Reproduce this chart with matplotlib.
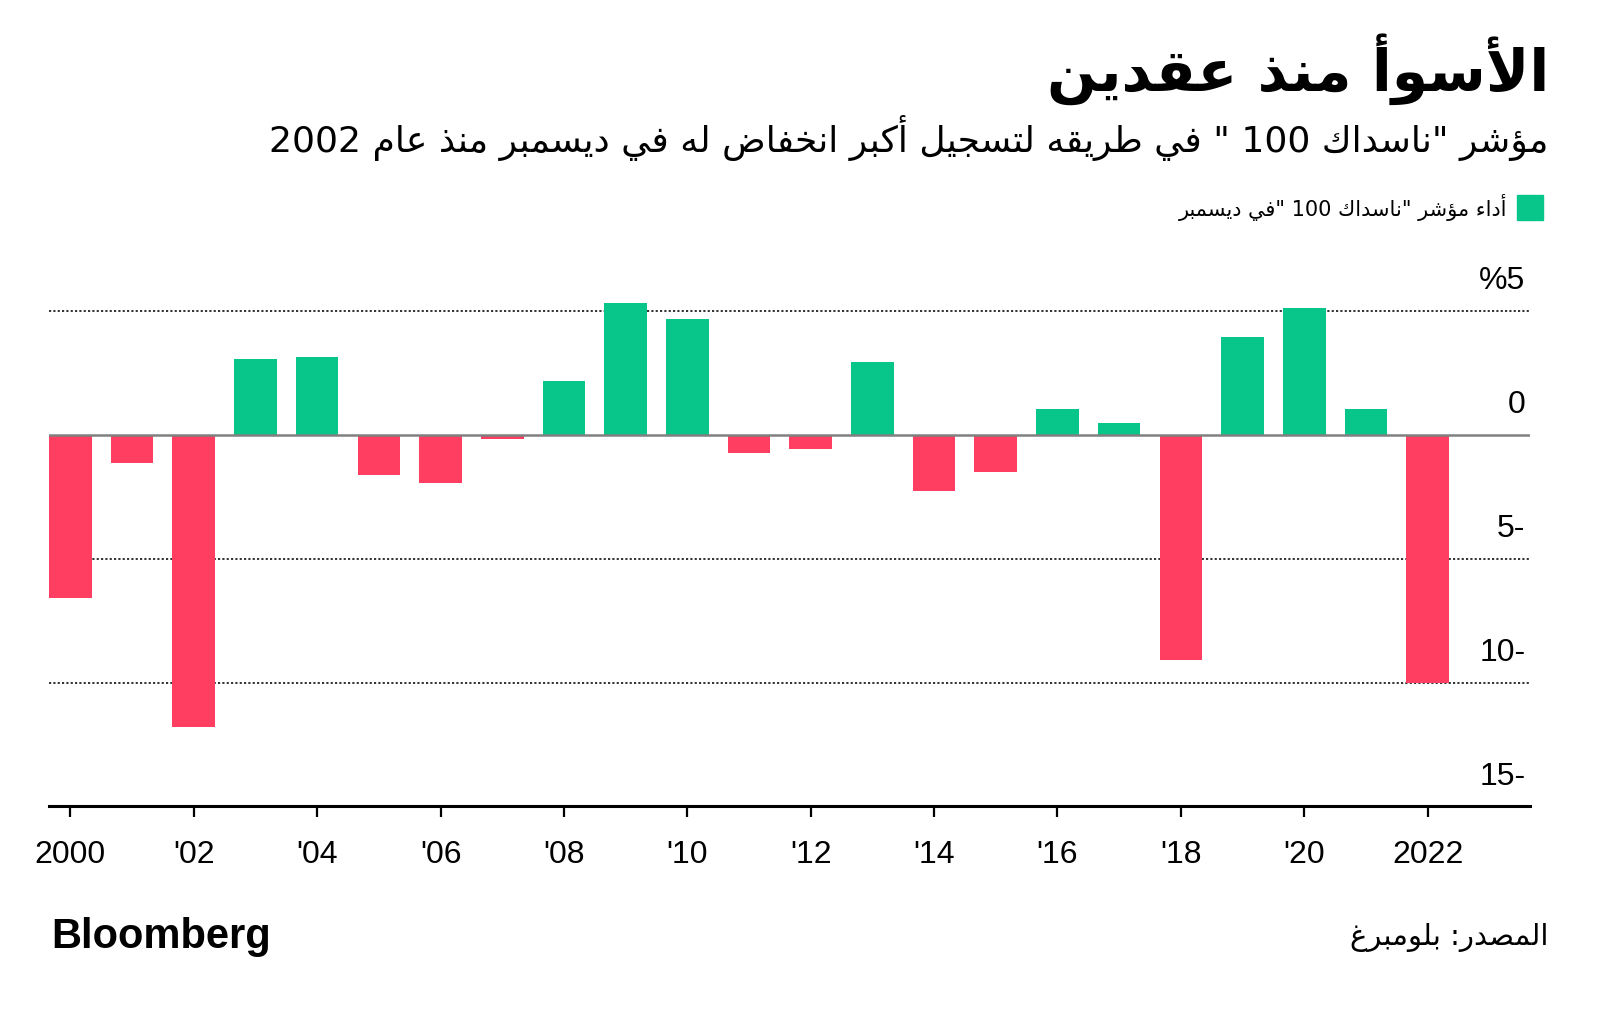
import re
import numpy as np
import matplotlib
matplotlib.use('Agg')
import matplotlib.pyplot as plt
from matplotlib.patches import Rectangle

# data (December change of Nasdaq 100, %)
years = np.arange(2000, 2023)
values = [-6.57, -1.15, -11.78, 3.08, 3.16, -1.63, -1.94, -0.17, 2.19, 5.33, 4.68,
          -0.75, -0.57, 2.96, -2.28, -1.50, 1.05, 0.50, -9.07, 3.94, 5.12, 1.05, -10.0]
xtick_years = list(range(2000, 2023, 2))
xtick_labels = ['2000', "'02", "'04", "'06", "'08", "'10", "'12", "'14", "'16", "'18", "'20", '2022']
ytick_values = [5, 0, -5, -10, -15]
ytick_labels = ['%5', '0', '5-', '10-', '15-']
grid_values = [5, -5, -10]

title = 'الأسوأ منذ عقدين'
subtitle = 'مؤشر "ناسداك 100 " في طريقه لتسجيل أكبر انخفاض له في ديسمبر منذ عام 2002'
legend_label = 'أداء مؤشر "ناسداك 100 "في ديسمبر'
source = 'المصدر: بلومبرغ'

GREEN = '#08c68a'
RED = '#ff3e61'

# --- minimal Arabic shaping (matplotlib has no complex text layout) ---
FORMS = {
    '\u0621': (0xFE80, 1), '\u0622': (0xFE81, 2), '\u0623': (0xFE83, 2),
    '\u0624': (0xFE85, 2), '\u0625': (0xFE87, 2), '\u0626': (0xFE89, 4),
    '\u0627': (0xFE8D, 2), '\u0628': (0xFE8F, 4), '\u0629': (0xFE93, 2),
    '\u062A': (0xFE95, 4), '\u062B': (0xFE99, 4), '\u062C': (0xFE9D, 4),
    '\u062D': (0xFEA1, 4), '\u062E': (0xFEA5, 4), '\u062F': (0xFEA9, 2),
    '\u0630': (0xFEAB, 2), '\u0631': (0xFEAD, 2), '\u0632': (0xFEAF, 2),
    '\u0633': (0xFEB1, 4), '\u0634': (0xFEB5, 4), '\u0635': (0xFEB9, 4),
    '\u0636': (0xFEBD, 4), '\u0637': (0xFEC1, 4), '\u0638': (0xFEC5, 4),
    '\u0639': (0xFEC9, 4), '\u063A': (0xFECD, 4), '\u0641': (0xFED1, 4),
    '\u0642': (0xFED5, 4), '\u0643': (0xFED9, 4), '\u0644': (0xFEDD, 4),
    '\u0645': (0xFEE1, 4), '\u0646': (0xFEE5, 4), '\u0647': (0xFEE9, 4),
    '\u0648': (0xFEED, 2), '\u0649': (0xFEEF, 2), '\u064A': (0xFEF1, 4),
}
LAMALEF = {'\u0622': 0xFEF5, '\u0623': 0xFEF7, '\u0625': 0xFEF9, '\u0627': 0xFEFB}


def ar(s):
    items = []
    i = 0
    while i < len(s):
        c = s[i]
        if c == '\u0644' and i + 1 < len(s) and s[i + 1] in LAMALEF:
            items.append((LAMALEF[s[i + 1]], 2))
            i += 2
            continue
        items.append(FORMS.get(c, (c, 0)))
        i += 1
    out = []
    for k, (b, n) in enumerate(items):
        if n == 0:
            out.append(b)
            continue
        if n == 1:
            out.append(chr(b))
            continue
        jp = k > 0 and items[k - 1][1] == 4
        jn = n == 4 and k + 1 < len(items) and items[k + 1][1] >= 2
        off = 3 if (jp and jn) else 1 if jp else 2 if jn else 0
        out.append(chr(b + off))
    tokens = re.findall(r'[0-9]+|.', ''.join(out))
    return ''.join(tokens[::-1])


AR = ['DejaVu Sans']

fig = plt.figure(figsize=(16, 10.14), dpi=100)
ax = fig.add_axes([0.0306, 0.2047, 0.9254, 0.5252])

colors = [GREEN if v >= 0 else RED for v in values]
ax.bar(years, values, width=0.69, color=colors, zorder=2)

for g in grid_values:
    ax.axhline(g, color='#222222', lw=1.3, ls=(0, (1.2, 1.2)), zorder=1)
ax.axhline(0, color='#808080', lw=1.8, zorder=3)

ax.set_xlim(1999.653, 2023.653)
ax.set_ylim(-15, 6.5)

for s in ['top', 'right', 'left']:
    ax.spines[s].set_visible(False)
ax.spines['bottom'].set_linewidth(2.2)
ax.spines['bottom'].set_zorder(4)

ax.set_xticks(xtick_years)
ax.set_xticklabels(xtick_labels, fontsize=23, family='Liberation Sans')
ax.tick_params(axis='x', length=8, width=1.6, pad=16, color='black')
ax.set_yticks([])

for v, lab in zip(ytick_values, ytick_labels):
    ax.annotate(lab, xy=(1.0, v), xycoords=('axes fraction', 'data'),
                xytext=(-3, 10.5), textcoords='offset points',
                ha='right', va='bottom', fontsize=23, family='Liberation Sans')

# header texts
fig.text(0.968, 0.932, ar(title), ha='right', va='center', fontsize=42,
         fontweight='bold', family=AR)
fig.text(0.968, 0.864, ar(subtitle), ha='right', va='center', fontsize=26,
         family=AR)

# legend
fig.add_artist(Rectangle((0.9481, 1 - 220 / 1014), 26 / 1600, 25 / 1014,
                         transform=fig.transFigure, color=GREEN))
fig.text(0.942, 1 - 208 / 1014, ar(legend_label), ha='right', va='center',
         fontsize=15, family=AR)

# footer
fig.text(0.032, 1 - 937 / 1014, 'Bloomberg', ha='left', va='center', fontsize=30,
         fontweight='bold', family='Liberation Sans')
fig.text(0.968, 1 - 938 / 1014, ar(source), ha='right', va='center', fontsize=21,
         family=AR)

fig.savefig('out.png', dpi=100, facecolor='white')
